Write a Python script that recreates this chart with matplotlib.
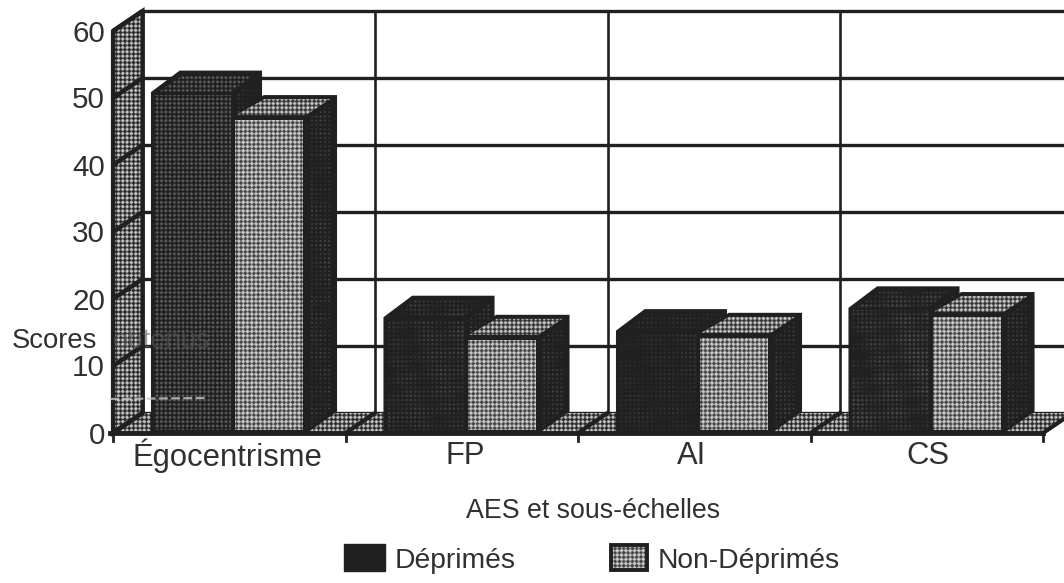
import numpy as np
import matplotlib
matplotlib.use("Agg")
import matplotlib.pyplot as plt
from matplotlib.patches import Polygon, Rectangle

categories = ["Égocentrisme", "FP", "AI", "CS"]
deprimes = [50.8, 17.2, 15.2, 18.6]
non_deprimes = [47.0, 14.2, 14.5, 17.6]
y_ticks = [0, 10, 20, 30, 40, 50, 60]
series_names = ["Déprimés", "Non-Déprimés"]

plt.rcParams["font.family"] = ["Liberation Sans", "DejaVu Sans"]
W, H = 1064, 583
fig = plt.figure(figsize=(W / 100, H / 100), dpi=100)
ax = fig.add_axes([0, 0, 1, 1])
ax.axis("off")

X0, Y0 = 113, 433
UNIT = 6.7
DX, DY = 29.5, -20
CAT_W = 232.5
INK = "#202020"
TXT = "#303030"
FS = 21.3


def yf(v):
    return Y0 - UNIT * v


yy, xx = np.mgrid[0:H * 2, 0:W * 2] / 2
patch = np.clip(0.55 + 0.35 * np.sin(xx / 37 + 1) * np.sin(yy / 29 + 2)
                + 0.35 * np.sin(xx / 9 + yy / 7) * np.sin(xx / 17 - yy / 5), 0, 1)


def texture(period, low, high, thresh, patchy=False):
    v = np.sin(2 * np.pi * (xx + yy) / period) * np.sin(2 * np.pi * (xx - yy) / period)
    dots = (v > thresh).astype(float)
    if patchy:
        dots = dots * patch
    return low + (high - low) * dots


TEX = {
    "wall": texture(8.6, 0.16, 0.78, 0.05),
    "floor": texture(8.6, 0.16, 0.78, 0.05),
    "light": texture(8.6, 0.26, 0.80, 0.0),
    "lighttop": texture(8.6, 0.20, 0.78, 0.05),
    "dark0": texture(8.6, 0.12, 0.36, 0.15),
    "dark1": texture(8.6, 0.125, 0.30, 0.35, True),
    "dark2": texture(8.6, 0.125, 0.24, 0.45, True),
    "dark3": texture(8.6, 0.125, 0.32, 0.25, True),
    "side": texture(8.6, 0.125, 0.34, 0.55, True),
}


def stipple(points, kind, z, edge=INK, lw=1.5):
    im = ax.imshow(TEX[kind], cmap="gray", vmin=0, vmax=1, extent=(0, W, H, 0),
                   zorder=z, interpolation="bilinear", aspect="auto")
    poly = Polygon(points, closed=True, transform=ax.transData, fc="none", ec=edge, lw=lw, zorder=z + 0.01)
    ax.add_patch(poly)
    im.set_clip_path(poly)


# back wall grid
for v in y_ticks:
    ax.plot([X0 + DX, W], [yf(v) + DY, yf(v) + DY], color=INK, lw=2.4, zorder=1.5, solid_capstyle="butt")
for i in range(4):
    x = X0 + DX + i * CAT_W
    ax.plot([x, x], [yf(60) + DY, yf(0) + DY], color=INK, lw=1.9, zorder=1.5)

# left wall and floor
stipple([(X0, yf(60)), (X0 + DX, yf(60) + DY), (X0 + DX, yf(0) + DY), (X0, yf(0))], "wall", 2, lw=3)
for v in y_ticks:
    ax.plot([X0, X0 + DX], [yf(v), yf(v) + DY], color=INK, lw=3.2, zorder=3, solid_capstyle="butt")
stipple([(X0, Y0), (X0 + DX, Y0 + DY), (X0 + 4 * CAT_W + DX, Y0 + DY), (X0 + 4 * CAT_W, Y0)], "floor", 2.2, lw=0)
for i in range(5):
    x = X0 + i * CAT_W
    ax.plot([x, x + DX], [Y0, Y0 + DY], color=INK, lw=3, zorder=2.5)
    ax.plot([x, x], [Y0, Y0 + 8], color=INK, lw=2, zorder=9)
ax.plot([X0 - 3, X0 + 4 * CAT_W], [Y0, Y0], color=INK, lw=3.5, zorder=9)


def bar(x0, x1, v, depth, front, top, z):
    y = yf(v)
    dx, dy = depth
    outline = [(x0, Y0), (x0, y), (x0 + dx, y + dy), (x1 + dx, y + dy), (x1 + dx, Y0 + dy), (x1, Y0)]
    ax.add_patch(Polygon(outline, closed=True, fc=INK, ec=INK, lw=1.5, zorder=z))
    stipple([(x1 + 4, y + 1), (x1 + dx - 4, y + dy + 6), (x1 + dx - 4, Y0 + dy - 2), (x1 + 4, Y0 - 4)],
            "side", z + 0.05, edge="none", lw=0)
    if top is not None:
        stipple([(x0 + 3, y - 3), (x0 + dx, y + dy + 3), (x1 + dx - 6, y + dy + 3), (x1 + 1, y - 3)],
                top, z + 0.1, edge="none", lw=0)
    else:
        stipple([(x0 + 7, y - 1), (x0 + dx + 2, y + dy + 4), (x1 + dx - 9, y + dy + 4), (x1 - 2, y - 1)],
                front, z + 0.1, edge="none", lw=0)
    stipple([(x0 + 2, y + 2), (x1 - 2, y + 2), (x1 - 2, Y0 - 3), (x0 + 2, Y0 - 3)],
            front, z + 0.2, edge="none", lw=0)


label_shift = [114, 120, 114, 117]
for i, cat in enumerate(categories):
    base = X0 + i * CAT_W
    bar(base + 39, base + 120, deprimes[i], (28, -21), "dark%d" % i, None, 4 + i)
    bar(base + 120, base + 192, non_deprimes[i], (31, -22), "light", "lighttop", 4.5 + i)
    ax.text(base + label_shift[i], 456, cat, ha="center", va="center", fontsize=FS + 1,
            color=TXT, zorder=12)

for v in y_ticks:
    ax.text(X0 - 8, yf(v) + 2.5, str(v), ha="right", va="center", fontsize=FS, color=TXT, zorder=12)

# y axis title, printed under the bars in the original
ax.text(12, 341, "Scores", ha="left", va="center", fontsize=FS - 1.5, color=TXT, zorder=12)
ax.text(113, 341, "obtenus", ha="left", va="center", fontsize=FS - 1.5, color="#555555",
        alpha=0.6, zorder=12)

# scanning smear
ax.plot([110, 205], [399, 398], color="#c8c8c8", lw=1.6, ls=(0, (4, 1.5)), alpha=0.8, zorder=11)

ax.text(593, 511, "AES et sous-échelles", ha="center", va="center", fontsize=FS - 2, color=TXT, zorder=12)

# legend
ax.add_patch(Rectangle((344, 544), 41, 27, fc=INK, ec=INK, lw=1, zorder=10))
ax.text(395, 561, series_names[0], ha="left", va="center", fontsize=FS - 1, color=TXT, zorder=12)
stipple([(611, 545), (647, 545), (647, 570), (611, 570)], "light", 10, lw=2.8)
ax.text(658, 561, series_names[1], ha="left", va="center", fontsize=FS - 1, color=TXT, zorder=12)

ax.set_xlim(0, W)
ax.set_ylim(H, 0)
fig.savefig("out.png", dpi=100, facecolor="white")
